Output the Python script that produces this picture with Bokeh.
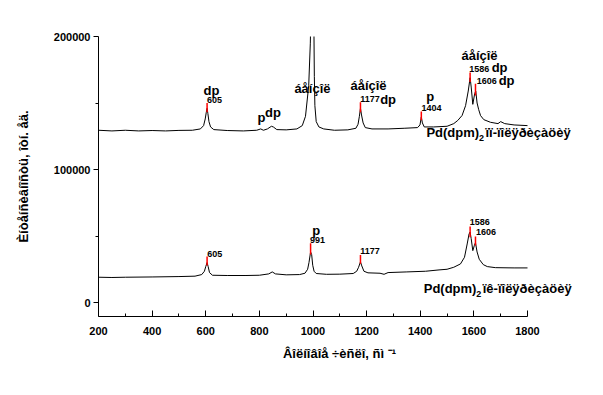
from bokeh.plotting import figure
from bokeh.models import FixedTicker, Range1d, BasicTickFormatter
from bokeh.core.properties import value
from bokeh.embed import file_html
from bokeh.resources import INLINE

# ---- data ----
top_x = [200, 250, 300, 350, 400, 450, 500, 550, 580, 592, 598, 602, 605, 608, 612, 618, 630,
         680, 740, 790, 805, 815, 830, 845, 852, 865, 900, 940, 960, 972, 984, 990, 992,
         1003, 1005, 1007, 1012, 1022, 1040, 1080, 1130, 1160, 1168, 1173, 1177, 1181, 1187,
         1195, 1220, 1280, 1340, 1390, 1399, 1404, 1408, 1415, 1450, 1500, 1525, 1540, 1556,
         1569, 1579, 1586, 1590, 1596, 1603, 1607, 1612, 1618, 1625, 1637, 1662, 1690, 1700,
         1715, 1750, 1800]
top_y = [129500, 129000, 129500, 129000, 129300, 129000, 129400, 129500, 130500, 133000, 138000,
         143000, 146000, 142000, 136000, 132000, 130000, 129300, 129000, 129500, 130500, 129500,
         130500, 132500, 132000, 130000, 129800, 130500, 133000, 140000, 163000, 195000, 215000,
         215000, 170000, 148000, 136000, 132000, 130500, 129500, 129800, 131000, 134000, 140000,
         146000, 141000, 135000, 131500, 130500, 130500, 131000, 131500, 133500, 139500, 135000,
         132000, 132000, 132500, 134500, 136900, 140600, 148000, 159000, 169000, 162000, 149000,
         157000, 159000, 150000, 145000, 140500, 137500, 135500, 134500, 136000, 134500, 133500,
         133000]

bot_x = [200, 250, 300, 400, 500, 560, 585, 595, 600, 605, 609, 614, 625, 680, 750, 800, 835,
         848, 860, 900, 950, 970, 980, 985, 991, 995, 999, 1004, 1012, 1050, 1100, 1150, 1163,
         1170, 1177, 1182, 1190, 1205, 1250, 1265, 1280, 1350, 1420, 1470, 1500, 1525, 1550,
         1565, 1575, 1582, 1586, 1590, 1596, 1602, 1606, 1612, 1620, 1635, 1650, 1680, 1750, 1800]
bot_y = [19000, 18800, 19000, 19200, 19500, 19800, 21000, 23500, 27000, 30000, 27000, 22500,
         20500, 20300, 20300, 20500, 21500, 23000, 21500, 20800, 21000, 22000, 25000, 30000,
         38000, 36000, 28000, 23500, 21800, 21200, 21300, 21800, 23500, 26500, 30500, 27500,
         23500, 22300, 22000, 21200, 22500, 23000, 23500, 24500, 25000, 26500, 29000, 34000,
         44000, 51500, 53000, 48000, 39000, 43000, 45000, 38000, 32500, 28500, 27000, 26200,
         26000, 26000]

# peak markers (red)
top_mark_x = [605, 1177, 1404, 1586, 1606]
top_mark_lo = [143000, 143000, 137000, 165700, 155700]
top_mark_hi = [150000, 150600, 143600, 173000, 164500]
bot_mark_x = [605, 991, 1177, 1586, 1606]
bot_mark_lo = [27800, 36100, 29100, 49100, 42900]
bot_mark_hi = [34600, 44600, 35800, 57100, 49600]

x_ticks = [200, 400, 600, 800, 1000, 1200, 1400, 1600, 1800]
x_minor = [300, 500, 700, 900, 1100, 1300, 1500, 1700]
y_ticks = [0, 100000, 200000]
y_minor = [50000, 150000]

benz = "áåíçîë"
big_labels = ["dp", "p", "dp", benz, benz, "dp", "p", benz, "dp", "dp", "p"]
big_x = [621, 808, 851, 998, 1207, 1280, 1437, 1621, 1696, 1722, 1012]
big_y = [159400, 138900, 143100, 160700, 163200, 152700, 154900, 185700, 176500, 166900, 54100]

num_labels = ["605", "1177", "1404", "1586", "1606", "605", "991", "1177", "1586", "1606"]
num_x = [633, 1213, 1442, 1620, 1648, 634, 1017, 1213, 1622, 1645]
num_y = [151900, 153200, 146400, 175700, 166400, 36100, 47100, 38600, 60900, 52900]

legend_main = ["Pd(dpm)", "Pd(dpm)"]
legend_sub = ["2", "2"]
legend_rest = ["ïï-ïîëÿðèçàöèÿ", "ïê-ïîëÿðèçàöèÿ"]
legend_x = [1423, 1413]
legend_y = [127800, 10300]

FONT = value("Liberation Sans")

# frame: 429 px for 200..1800, extended to the right so the curve names are not clipped
px2x = 1600 / 429.0
px2y = 100000 / 133.0
frame_w = 482
x_end = 200 + frame_w * px2x

p = figure(width=587, height=379, output_backend="svg", toolbar_location=None,
           x_range=Range1d(200, x_end), y_range=Range1d(-10526, 200000),
           min_border_left=98, min_border_right=587 - 98 - frame_w,
           min_border_top=36, min_border_bottom=63)
p.outline_line_color = None
p.grid.visible = False
p.background_fill_color = "white"
p.border_fill_color = "white"

p.line(top_x, top_y, line_color="black", line_width=1)
p.line(bot_x, bot_y, line_color="black", line_width=1)
p.segment(x0=top_mark_x, y0=top_mark_lo, x1=top_mark_x, y1=top_mark_hi, line_color="red", line_width=1.5)
p.segment(x0=bot_mark_x, y0=bot_mark_lo, x1=bot_mark_x, y1=bot_mark_hi, line_color="red", line_width=1.5)

p.text(x=big_x, y=big_y, text=big_labels, text_font=FONT, text_font_style="bold",
       text_font_size="13px", text_align="center", text_baseline="middle", text_color="black")
p.text(x=num_x, y=num_y, text=num_labels, text_font=FONT, text_font_style="bold",
       text_font_size="9px", text_align="center", text_baseline="middle", text_color="black")

p.text(x=legend_x, y=legend_y, text=legend_main, text_font=FONT, text_font_style="bold",
       text_font_size="13px", text_align="left", text_baseline="middle", text_color="black")
p.text(x=[v + 52.5 * px2x for v in legend_x], y=[v - 5 * px2y for v in legend_y], text=legend_sub,
       text_font=FONT, text_font_style="bold", text_font_size="9px", text_align="left",
       text_baseline="middle", text_color="black")
p.text(x=[v + 59 * px2x for v in legend_x], y=legend_y, text=legend_rest, text_font=FONT,
       text_font_style="bold", text_font_size="13px", text_align="left", text_baseline="middle",
       text_color="black")

# axes
xa = p.xaxis[0]
xa.bounds = (200, 1800)
xa.ticker = FixedTicker(ticks=x_ticks, minor_ticks=x_minor)
xa.major_tick_in = 6
xa.major_tick_out = 0
xa.minor_tick_in = 3
xa.minor_tick_out = 0
xa.major_label_standoff = 10
xa.major_label_text_font = "Liberation Sans"
xa.major_label_text_font_style = "bold"
xa.major_label_text_font_size = "11px"
xa.major_label_text_color = "black"
xa.axis_line_color = "black"
xa.major_tick_line_color = "black"
xa.minor_tick_line_color = "black"
xa.axis_label = "Âîëíîâîå ÷èñëî, ñì ⁻¹"
xa.axis_label_standoff = 8
xa.axis_label_text_font = "Liberation Sans"
xa.axis_label_text_font_style = "bold"
xa.axis_label_text_font_size = "13px"
xa.axis_label_text_color = "black"

ya = p.yaxis[0]
ya.ticker = FixedTicker(ticks=y_ticks, minor_ticks=y_minor)
ya.formatter = BasicTickFormatter(use_scientific=False)
ya.major_tick_in = 0
ya.major_tick_out = 5
ya.minor_tick_in = 0
ya.minor_tick_out = 3
ya.major_label_standoff = 3
ya.major_label_text_font = "Liberation Sans"
ya.major_label_text_font_style = "bold"
ya.major_label_text_font_size = "11px"
ya.major_label_text_color = "black"
ya.axis_line_color = "black"
ya.major_tick_line_color = "black"
ya.minor_tick_line_color = "black"
ya.axis_label = "Èíòåíñèâíîñòü, îòí. åä."
ya.axis_label_standoff = 20
ya.axis_label_text_font = "Liberation Sans"
ya.axis_label_text_font_style = "bold"
ya.axis_label_text_font_size = "13px"
ya.axis_label_text_color = "black"

open("out.html", "w").write(file_html(p, INLINE))
